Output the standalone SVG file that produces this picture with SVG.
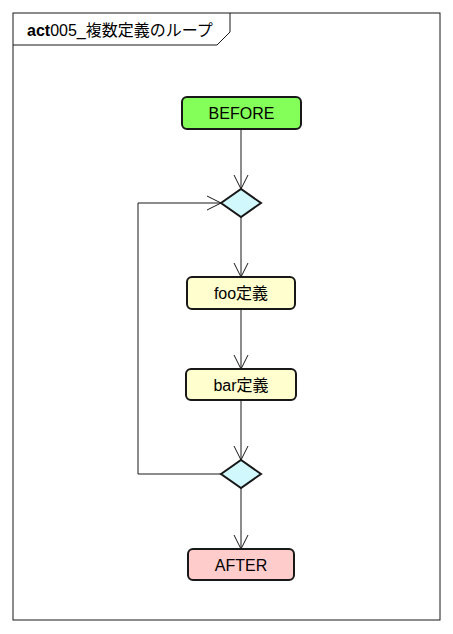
<svg xmlns="http://www.w3.org/2000/svg" width="453" height="634" viewBox="0 0 453 634">
<defs>
<marker id="arr" viewBox="0 0 16 16" refX="15" refY="8" markerWidth="16" markerHeight="16" markerUnits="userSpaceOnUse" orient="auto">
<path d="M1,1 L15,8 L1,15" fill="none" stroke="#181818" stroke-width="1"/>
</marker>
<style>
.node{stroke:#181818;stroke-width:2}
.lbl{font-family:"Liberation Sans",Arial,"Noto Sans CJK JP",sans-serif;font-size:16px;fill:#000;text-anchor:middle}
.edge{fill:none;stroke:#181818;stroke-width:1;marker-end:url(#arr)}
.dia{fill:#D1F8FC;stroke:#181818;stroke-width:2}
</style>
</defs>
<rect width="453" height="634" fill="#fff"/>
<g id="frame">
<rect x="13" y="13" width="427" height="607" fill="none" stroke="#181818" stroke-width="1"/>
<path d="M13,45 L217,45 L230,32 L230,13" fill="none" stroke="#181818" stroke-width="1"/>
<text x="27" y="36" font-family="'Liberation Sans',Arial,'Noto Sans CJK JP',sans-serif" font-size="16"><tspan font-weight="bold">act</tspan>005_複数定義のループ</text>
</g>
<g id="connectors">
<path class="edge" d="M241,129 L241,189"/>
<path class="edge" d="M241,217 L241,277"/>
<path class="edge" d="M241,309 L241,369"/>
<path class="edge" d="M241,400 L241,460"/>
<path class="edge" d="M241,488 L241,549"/>
<path class="edge" d="M221,474 L138,474 L138,203 L221,203"/>
</g>
<g id="before">
<rect class="node" x="182" y="97" width="119" height="32" rx="5" fill="#84FF5A"/>
<text class="lbl" x="241.5" y="119">BEFORE</text>
</g>
<g id="merge1">
<polygon class="dia" points="221,203 241,189 261,203 241,217"/>
</g>
<g id="foo">
<rect class="node" x="187" y="277" width="108" height="32" rx="5" fill="#FEFECE"/>
<text class="lbl" x="241" y="299">foo定義</text>
</g>
<g id="bar">
<rect class="node" x="186" y="369" width="110" height="31" rx="5" fill="#FEFECE"/>
<text class="lbl" x="241" y="391">bar定義</text>
</g>
<g id="branch2">
<polygon class="dia" points="221,474 241,460 261,474 241,488"/>
</g>
<g id="after">
<rect class="node" x="188" y="549" width="106" height="31" rx="5" fill="#FFCCCC"/>
<text class="lbl" x="241" y="571">AFTER</text>
</g>
</svg>
